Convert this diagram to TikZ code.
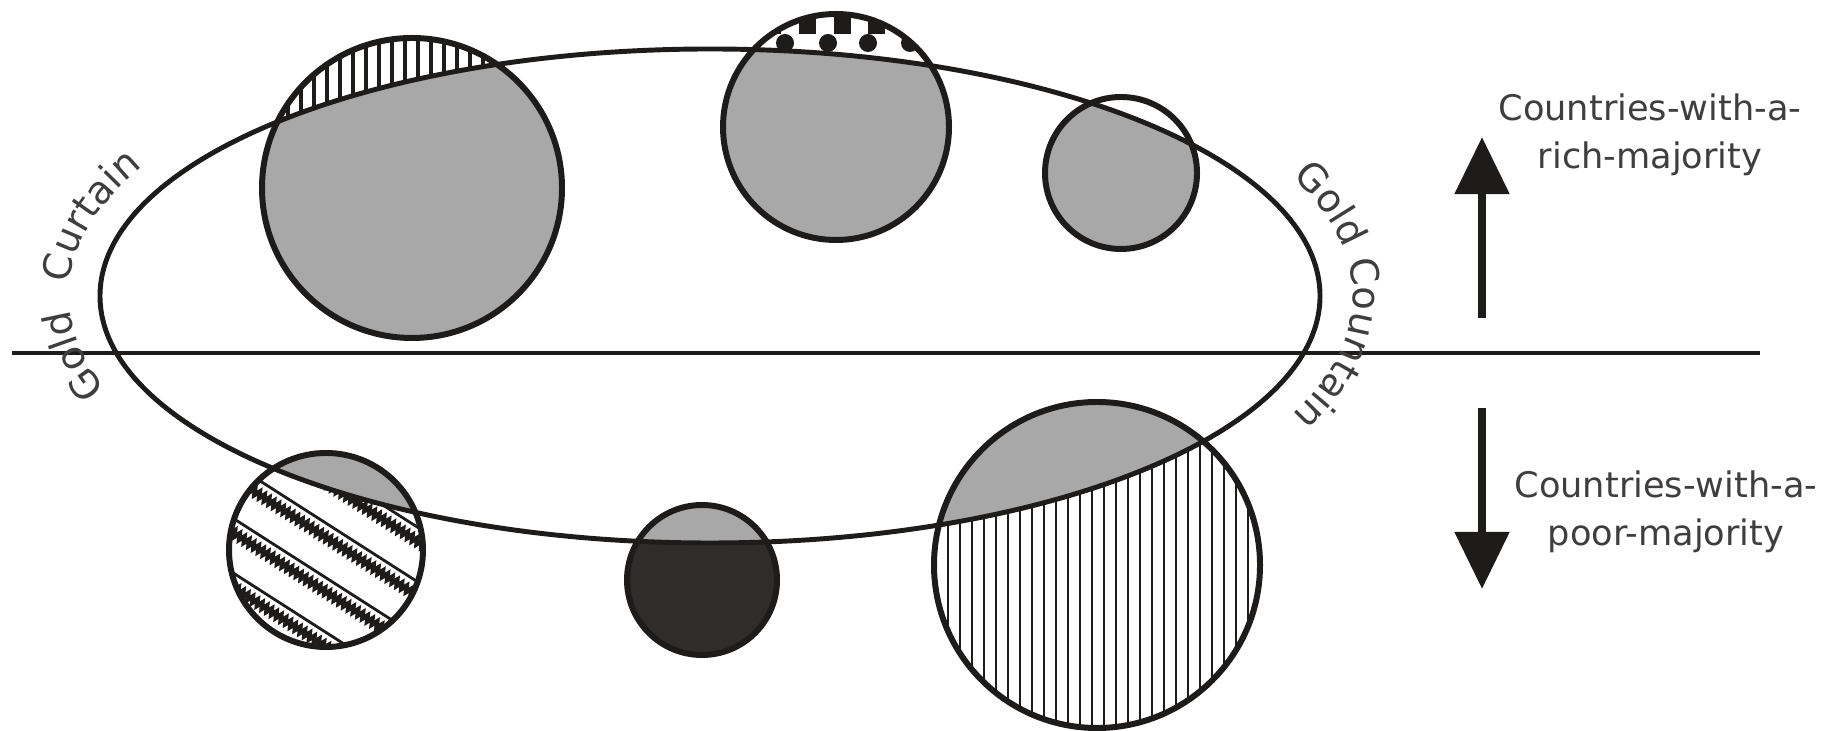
\documentclass[tikz,border=0pt]{standalone}
\usepackage{fontspec}
\setmainfont{DejaVu Sans}
\usepackage{xcolor}
\usepackage{tikz}
\usetikzlibrary{positioning, arrows.meta, decorations.text, decorations.pathmorphing}

\definecolor{capgray}{RGB}{168,168,168}
\definecolor{coal}{RGB}{48,44,42}
\definecolor{ink}{RGB}{30,27,27}
\newcommand{\lblfont}{\fontsize{10}{13.5}\selectfont}
\newcommand{\curtainfont}{\fontsize{11}{13}\selectfont}

\tikzset{
  ring/.style={line width=1.7pt, draw=ink},
  rim/.style={line width=1.4pt, draw=ink},
  axisline/.style={line width=1.1pt, draw=ink},
  hatch/.style={line width=1pt, draw=ink},
  bigarrow/.style={line width=2.4pt, draw=ink, -{Triangle[length=0.57cm, width=0.53cm]}},
  caption/.style={font=\lblfont, align=center, text=ink!85},
}

\begin{document}
\begin{tikzpicture}[x=0.01cm, y=0.01cm]
        \useasboundingbox (0,0) rectangle (1825,731);
        \coordinate (ctr) at (710,435);

        % Circle centres
        \foreach \n/\x/\y in {tl/412/543, tm/836/604, tr/1121/558, bl/326/181, bm/702/151, br/1097/166}
          \coordinate (\n) at (\x,\y);

        % Top left: vertical hatch above the rim
        \begin{scope}
          \clip (tl) circle[radius=150];
          \foreach \x in {262,275,...,562} \draw[hatch] (\x,390) -- (\x,700);
          \fill[capgray] (ctr) ellipse[x radius=610, y radius=247];
        \end{scope}

        % Top middle: squares and blobs above the rim
        \begin{scope}
          \clip (tm) circle[radius=113];
          \foreach \x in {773,808,843,877,911} \fill[ink] (\x-9,697) rectangle ++(17,17);
          \foreach \x in {750,785,828,868,910} \fill[ink] (\x,688) circle[radius=9];
          \fill[capgray] (ctr) ellipse[x radius=610, y radius=247];
        \end{scope}

        % Top right
        \begin{scope}
          \clip (tr) circle[radius=76];
          \fill[capgray] (ctr) ellipse[x radius=610, y radius=247];
        \end{scope}

        % Bottom left: slanted stripes, solid and ragged
        \begin{scope}
          \clip (bl) circle[radius=97];
          \foreach \d in {-115,-69,...,120} {
            \draw[shift={(bl)}, line width=0.8pt, ink] (\d*0.539-160,\d*0.842+102) -- ++(320,-205);
            \draw[shift={(bl)}, line width=1.3pt, ink, decorate,
                  decoration={zigzag, amplitude=0.8pt, segment length=1.6pt}]
              (\d*0.539-6.5-160,\d*0.842-10+102) -- ++(320,-205);
          }
          \fill[capgray] (ctr) ellipse[x radius=610, y radius=247];
        \end{scope}

        % Bottom middle: dark
        \begin{scope}
          \clip (bm) circle[radius=75];
          \fill[coal] (bm) circle[radius=80];
          \fill[capgray] (ctr) ellipse[x radius=610, y radius=247];
        \end{scope}

        % Bottom right: fine vertical hatch
        \begin{scope}
          \clip (br) circle[radius=163];
          \foreach \x in {936,948,...,1262} \draw[line width=0.7pt, ink] (\x,0) -- (\x,340);
          \fill[capgray] (ctr) ellipse[x radius=610, y radius=247];
        \end{scope}

        % Rim and outlines
        \draw[rim] (ctr) ellipse[x radius=610, y radius=247];
        \foreach \n/\r in {tl/150, tm/113, tr/76, bl/97, bm/75, br/163}
          \draw[ring] (\n) circle[radius=\r];

        % Dividing line
        \coordinate (west) at (12,378);
        \coordinate (east) at (1760,378);
        \draw[axisline] (west) -- (east);

        % Curtain labels
        \path[decorate, decoration={text along path, text align=center,
              text={|\curtainfont\color{ink!85}|Gold {\kern0.35em}Curtain}}]
          (ctr) ++(222:641 and 278) arc[start angle=222, end angle=132, x radius=641, y radius=278];
        \path[decorate, decoration={text along path, text align=center,
              text={|\curtainfont\color{ink!85}|Gold Countain}}]
          (ctr) ++(45:643 and 280) arc[start angle=45, end angle=-45, x radius=643, y radius=280];

        % Arrows
        \coordinate (upfoot) at (1482,413);
        \coordinate (uptip) at (1482,594);
        \coordinate (downfoot) at (1482,323);
        \coordinate (downtip) at (1482,142);
        \draw[bigarrow] (upfoot) -- (uptip);
        \draw[bigarrow] (downfoot) -- (downtip);

        % Labels
        \node[caption] (rich) at (1650,596) {Countries-with-a-\\rich-majority};
        \node[caption] (poor) at (1666,219) {Countries-with-a-\\poor-majority};
      \end{tikzpicture}
\end{document}
